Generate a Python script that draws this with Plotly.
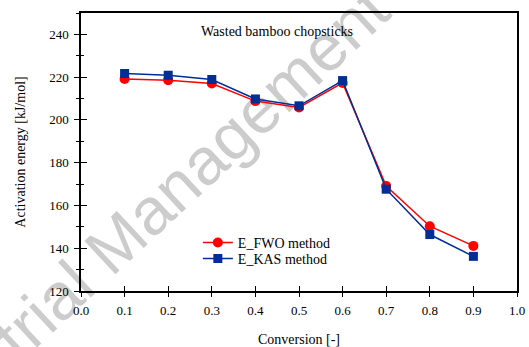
import plotly.graph_objects as go

# Activation energy vs. conversion for wasted bamboo chopsticks
conversion = [0.1, 0.2, 0.3, 0.4, 0.5, 0.6, 0.7, 0.8, 0.9]
e_fwo = [219.1, 218.6, 217.0, 208.8, 205.8, 217.3, 169.1, 150.3, 141.1]
e_kas = [221.7, 220.9, 218.9, 209.8, 206.6, 218.4, 167.6, 146.4, 136.2]

x_ticks = [0.0, 0.1, 0.2, 0.3, 0.4, 0.5, 0.6, 0.7, 0.8, 0.9, 1.0]
y_ticks = [120, 140, 160, 180, 200, 220, 240]

SERIF = "Liberation Serif, Times New Roman, serif"
RED = "#ff0000"
BLUE = "#002d96"

fig = go.Figure()

fig.add_trace(go.Scatter(
    x=conversion, y=e_fwo, name="E_FWO method", mode="lines+markers",
    line=dict(color=RED, width=1.5),
    marker=dict(symbol="circle", size=10, color=RED),
    legend="legend",
))
fig.add_trace(go.Scatter(
    x=conversion, y=e_kas, name="E_KAS method", mode="lines+markers",
    line=dict(color=BLUE, width=1.5),
    marker=dict(symbol="square", size=9, color=BLUE),
    legend="legend2",
))
# empty trace that carries the inward-tick overlay axes
fig.add_trace(go.Scatter(x=[], y=[], xaxis="x2", yaxis="y2",
                         showlegend=False, hoverinfo="skip"))

tick_font = dict(family=SERIF, size=13, color="black")
title_font = dict(family=SERIF, size=14, color="black")

fig.update_layout(
    width=529, height=347,
    margin=dict(l=81, r=12, t=13, b=56, autoexpand=False),
    paper_bgcolor="white", plot_bgcolor="white",
    font=dict(family=SERIF, size=14, color="black"),
    xaxis=dict(
        range=[0, 1], tickvals=x_ticks, tickformat=".1f",
        ticks="outside", ticklen=4, tickwidth=1, tickcolor="black",
        showline=True, linecolor="black", linewidth=1.5, mirror=True,
        showgrid=False, zeroline=False, tickfont=tick_font,
        ticklabelstandoff=3, automargin=False,
        title=dict(text="Conversion [-]", font=title_font, standoff=20),
    ),
    yaxis=dict(
        range=[120, 250], tickvals=y_ticks,
        ticks="outside", ticklen=5, tickwidth=1, tickcolor="black",
        minor=dict(dtick=10, ticks="outside", ticklen=3, tickwidth=1,
                   tickcolor="black", showgrid=False),
        showline=True, linecolor="black", linewidth=1.5, mirror=True,
        showgrid=False, zeroline=False, tickfont=tick_font,
        ticklabelstandoff=3, automargin=False,
        title=dict(text="Activation energy [kJ/mol]", font=title_font,
                   standoff=20),
    ),
    xaxis2=dict(
        overlaying="x", anchor="y2", side="bottom", range=[0, 1],
        tickvals=x_ticks, ticks="inside", ticklen=5, tickwidth=1,
        tickcolor="black", showticklabels=False, showline=False,
        showgrid=False, zeroline=False, automargin=False,
    ),
    yaxis2=dict(
        overlaying="y", anchor="x2", side="left", range=[120, 250],
        tickvals=y_ticks, ticks="inside", ticklen=6, tickwidth=1,
        tickcolor="black",
        minor=dict(dtick=10, ticks="inside", ticklen=3, tickwidth=1,
                   tickcolor="black", showgrid=False),
        showticklabels=False, showline=False, showgrid=False, zeroline=False,
        automargin=False,
    ),
    legend=dict(
        x=0.268, y=0.1727, xanchor="left", yanchor="middle",
        bgcolor="rgba(0,0,0,0)", font=dict(family=SERIF, size=14),
        borderwidth=0,
    ),
    legend2=dict(
        x=0.268, y=0.1151, xanchor="left", yanchor="middle",
        bgcolor="rgba(0,0,0,0)", font=dict(family=SERIF, size=14),
        borderwidth=0,
    ),
    showlegend=True,
)

fig.add_annotation(
    text="Wasted bamboo chopsticks", xref="paper", yref="paper",
    x=0.45, y=0.932, xanchor="center", yanchor="middle", showarrow=False,
    font=dict(family=SERIF, size=14, color="black"),
)

# diagonal watermark drawn beneath the data
fig.add_shape(
    type="line", xref="paper", yref="paper", layer="below",
    x0=-0.0596, y0=-0.0011, x1=0.2752, y1=0.4903,
    line=dict(color="rgba(0,0,0,0)", width=1),
    label=dict(text="Industrial Management", textposition="middle",
               textangle=-43, yanchor="middle",
               font=dict(family="Liberation Sans", size=66, color="#cccccc")),
)

fig.write_html("out.html")
